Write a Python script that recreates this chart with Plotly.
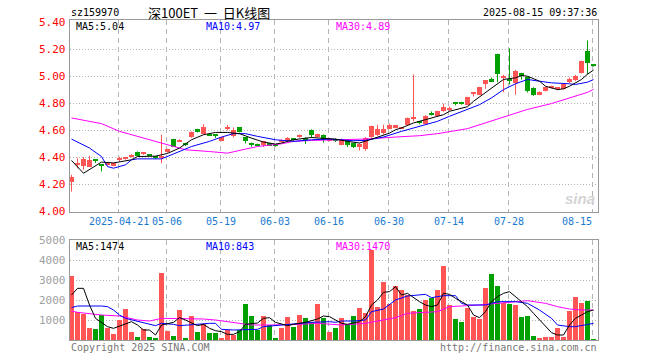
import plotly.graph_objects as go

# ---------------- data ----------------
tick_labels = ['2025-04-21', '05-06', '05-19', '06-03', '06-16', '06-30', '07-14', '07-28', '08-15']
tick_index = [8, 16, 25, 34, 43, 53, 63, 73, 87]

opens = [4.222, 4.350, 4.339, 4.333, 4.383, 4.340, 4.347, 4.340, 4.378, 4.392,
         4.408, 4.442, 4.428, 4.420, 4.407, 4.403, 4.440, 4.536, 4.519, 4.502,
         4.548, 4.610, 4.576, 4.572, 4.564, 4.525, 4.615, 4.556, 4.622, 4.548,
         4.509, 4.500, 4.489, 4.504, 4.492, 4.514, 4.524, 4.538, 4.553, 4.544,
         4.605, 4.550, 4.565, 4.527, 4.536, 4.494, 4.531, 4.507, 4.477, 4.462,
         4.551, 4.568, 4.580, 4.613, 4.618, 4.613, 4.642, 4.685, 4.667, 4.650,
         4.718, 4.709, 4.741, 4.756, 4.807, 4.810, 4.790, 4.874, 4.864, 4.939,
         4.976, 5.161, 4.988, 4.981, 4.951, 5.020, 4.993, 4.914, 4.864, 4.894,
         4.917, 4.912, 4.907, 4.956, 4.970, 5.025, 5.185, 5.080]
highs = [4.272, 4.395, 4.403, 4.413, 4.385, 4.342, 4.360, 4.360, 4.405, 4.402,
         4.425, 4.445, 4.440, 4.422, 4.410, 4.568, 4.465, 4.538, 4.535, 4.504,
         4.592, 4.612, 4.646, 4.575, 4.565, 4.552, 4.640, 4.622, 4.625, 4.550,
         4.510, 4.502, 4.523, 4.506, 4.495, 4.535, 4.550, 4.540, 4.570, 4.548,
         4.607, 4.575, 4.570, 4.540, 4.540, 4.540, 4.535, 4.510, 4.505, 4.550,
         4.635, 4.642, 4.642, 4.650, 4.640, 4.625, 4.695, 5.013, 4.670, 4.712,
         4.740, 4.745, 4.798, 4.775, 4.810, 4.812, 4.848, 4.882, 4.922, 4.972,
         4.990, 5.165, 5.010, 5.205, 5.045, 5.025, 4.998, 4.918, 4.888, 4.922,
         4.930, 4.918, 4.945, 4.990, 5.010, 5.115, 5.264, 5.082]
lows = [4.148, 4.320, 4.309, 4.329, 4.360, 4.297, 4.340, 4.335, 4.370, 4.385,
        4.400, 4.410, 4.420, 4.410, 4.390, 4.358, 4.435, 4.478, 4.515, 4.485,
        4.545, 4.585, 4.570, 4.565, 4.545, 4.520, 4.600, 4.548, 4.585, 4.504,
        4.480, 4.485, 4.478, 4.485, 4.480, 4.510, 4.520, 4.520, 4.545, 4.500,
        4.545, 4.545, 4.510, 4.520, 4.515, 4.490, 4.477, 4.470, 4.452, 4.450,
        4.545, 4.560, 4.570, 4.610, 4.615, 4.610, 4.638, 4.667, 4.645, 4.645,
        4.710, 4.705, 4.738, 4.745, 4.785, 4.790, 4.785, 4.850, 4.860, 4.907,
        4.958, 4.956, 4.882, 4.939, 4.864, 4.975, 4.880, 4.855, 4.860, 4.888,
        4.910, 4.898, 4.902, 4.950, 4.965, 5.020, 5.013, 5.070]
closes = [4.259, 4.358, 4.388, 4.383, 4.375, 4.338, 4.356, 4.357, 4.400, 4.397,
          4.416, 4.413, 4.432, 4.413, 4.400, 4.413, 4.462, 4.481, 4.531, 4.497,
          4.590, 4.590, 4.624, 4.566, 4.560, 4.548, 4.620, 4.605, 4.588, 4.519,
          4.489, 4.490, 4.519, 4.490, 4.487, 4.530, 4.544, 4.535, 4.556, 4.522,
          4.568, 4.570, 4.527, 4.535, 4.520, 4.536, 4.494, 4.477, 4.500, 4.544,
          4.630, 4.610, 4.610, 4.642, 4.637, 4.622, 4.690, 4.692, 4.655, 4.709,
          4.714, 4.741, 4.770, 4.760, 4.796, 4.797, 4.844, 4.880, 4.919, 4.970,
          4.963, 5.013, 5.005, 4.970, 5.037, 5.000, 4.889, 4.864, 4.884, 4.919,
          4.921, 4.916, 4.939, 4.983, 5.005, 5.111, 5.099, 5.078]
volumes = [3217, 1400, 1300, 617, 567, 1233, 617, 317, 1017, 1567,
           417, 167, 567, 167, 83, 3367, 467, 217, 1517, 83,
           1217, 417, 800, 367, 367, 83, 517, 233, 517, 1817,
           1200, 517, 1217, 767, 117, 617, 1133, 667, 1267, 1117,
           900, 1817, 1117, 417, 600, 1100, 800, 1200, 1600, 1367,
           4500, 1650, 2900, 1800, 2700, 2500, 2233, 1450, 1550, 1983,
           2100, 2500, 3700, 1750, 1050, 917, 1600, 1150, 1050, 2600,
           3300, 2700, 1867, 1800, 1750, 1150, 1200, 200, 100, 150,
           150, 600, 150, 1450, 2150, 1850, 1950, 50]

# moving-average lines (bar index, value)
ma5_idx = [0, 2, 5, 7, 10, 11, 14, 16, 18, 20, 22, 24, 26, 28, 30, 32, 34, 35, 37, 40, 41, 43,
           44, 46, 48, 50, 51, 53, 54, 55, 57, 58, 60, 62, 63, 66, 67, 69, 71, 72, 74, 75, 76,
           78, 79, 81, 82, 83, 85, 86, 87]
ma5_val = [4.378, 4.284, 4.366, 4.360, 4.383, 4.407, 4.410, 4.430, 4.470, 4.531, 4.568, 4.585,
           4.585, 4.576, 4.543, 4.514, 4.499, 4.507, 4.531, 4.548, 4.544, 4.539,
           4.536, 4.519, 4.507, 4.535, 4.551, 4.580, 4.605, 4.618, 4.655, 4.667, 4.692, 4.716,
           4.741, 4.775, 4.815, 4.877, 4.939, 4.976, 4.988, 5.005, 5.000,
           4.963, 4.926, 4.901, 4.907, 4.926, 4.976, 5.015, 5.045]
ma10_idx = [0, 3, 5, 6, 7, 9, 10, 11, 15, 16, 18, 20, 23, 25, 27, 29, 31, 34, 37, 40, 43,
            47, 49, 52, 55, 58, 61, 63, 65, 68, 70, 72, 74, 76, 78, 80, 83, 84, 86, 87]
ma10_val = [4.536, 4.470, 4.407, 4.333, 4.321, 4.346, 4.383, 4.390, 4.390, 4.407, 4.444,
            4.481, 4.519, 4.551, 4.576, 4.576, 4.556, 4.531, 4.519, 4.531, 4.536,
            4.524, 4.526, 4.551, 4.593, 4.630, 4.667, 4.704, 4.740, 4.790, 4.840, 4.901,
            4.944, 4.976, 4.963, 4.951, 4.944, 4.939, 4.956, 4.975]
ma30_idx = [0, 5, 8, 11, 15, 17, 19, 23, 26, 29, 31, 35, 37, 40, 43, 49, 54, 58, 61, 63,
            66, 71, 76, 80, 83, 86, 87]
ma30_val = [4.692, 4.650, 4.593, 4.556, 4.507, 4.477, 4.457, 4.444, 4.432, 4.462, 4.481,
            4.501, 4.519, 4.526, 4.531, 4.536, 4.551, 4.561, 4.576, 4.593,
            4.613, 4.684, 4.755, 4.798, 4.840, 4.881, 4.903]

vma5_idx = [0, 1, 2, 3, 4, 6, 7, 9, 10, 11, 12, 13, 14, 15, 16, 17, 18, 19, 21, 22, 23, 24,
            25, 26, 27, 28, 29, 31, 32, 33, 34, 36, 37, 39, 41, 42, 43, 44, 45, 46, 48, 49,
            50, 51, 52, 53, 54, 55, 56, 58, 59, 60, 61, 62, 63, 64, 66, 67, 68, 69, 70, 71,
            72, 73, 74, 76, 77, 78, 79, 80, 81, 82, 83, 84, 86, 87]
vma5_val = [2250, 2583, 2583, 1750, 1083, 667, 583, 783, 917, 750, 500, 500, 250, 750, 833,
            883, 1117, 1000, 717, 783, 583, 467, 417, 283, 283, 417, 783, 850, 1083, 1117,
            883, 717, 783, 883, 1050, 1200, 1167, 1000, 833, 783, 917, 1167, 1750, 2000,
            2383, 2417, 2667, 2250, 2333, 1917, 1750, 1667, 1750, 2333, 2283, 2083, 1750,
            1250, 1117, 1417, 1917, 2167, 2333, 2417, 2167, 1667, 1333, 1000, 667, 367,
            250, 250, 750, 1083, 1417, 1500]
vma10_idx = [0, 1, 5, 6, 7, 8, 9, 11, 12, 14, 15, 17, 18, 21, 23, 24, 25, 27, 28, 31, 32,
             34, 36, 38, 40, 43, 44, 45, 47, 49, 50, 52, 54, 56, 58, 59, 60, 62, 64, 65,
             66, 69, 70, 71, 74, 76, 78, 80, 81, 83, 84, 86, 87]
vma10_val = [1617, 1700, 1700, 1667, 1500, 1250, 1083, 950, 883, 717, 833, 783, 717, 800,
             833, 833, 533, 500, 500, 533, 667, 717, 750, 833, 883, 917, 883, 950, 950,
             1000, 1417, 1550, 2000, 2200, 2250, 2283, 2117, 2217, 2217, 1833, 1750, 1750,
             1833, 1917, 1917, 1833, 1500, 1083, 750, 667, 667, 783, 833]
vma30_idx = [0, 1, 5, 8, 11, 13, 15, 22, 24, 27, 30, 33, 36, 38, 41, 44, 45, 49, 51, 54,
             56, 59, 61, 63, 66, 68, 71, 74, 76, 79, 81, 83, 85, 87]
vma30_val = [1450, 1383, 1250, 1200, 1000, 950, 1083, 1050, 1000, 883, 750, 750, 750, 783,
             833, 783, 750, 833, 950, 1117, 1333, 1383, 1417, 1667, 1700, 1750, 1833, 1917,
             1967, 1833, 1667, 1550, 1500, 1500]

# ---------------- styling ----------------
RED = '#ff5555'
GREEN = '#00a000'
MONO = 'DejaVu Sans Mono'
GRID = '#b4b4b4'
FRAME = '#999999'

n = len(closes)
idx = list(range(n))
is_up = [c >= o for o, c in zip(opens, closes)]
colors = [RED if u else GREEN for u in is_up]
min_body = 0.0075
body_base = [min(o, c) for o, c in zip(opens, closes)]
body_h = [max(abs(c - o), min_body) for o, c in zip(opens, closes)]

fig = go.Figure()

# wicks
for flag, col in ((True, RED), (False, GREEN)):
    wx, wy = [], []
    for i in idx:
        if is_up[i] == flag:
            wx += [i, i, None]
            wy += [lows[i], highs[i], None]
    fig.add_trace(go.Scatter(x=wx, y=wy, mode='lines', line=dict(color=col, width=1),
                             xaxis='x', yaxis='y', hoverinfo='skip'))

# bodies
fig.add_trace(go.Bar(x=idx, y=body_h, base=body_base, width=0.834,
                     marker=dict(color=colors, line=dict(width=0)), xaxis='x', yaxis='y'))

# price MAs
for xs, ys, col in ((ma30_idx, ma30_val, '#ff00ff'), (ma10_idx, ma10_val, '#0000ff'),
                    (ma5_idx, ma5_val, '#000000')):
    fig.add_trace(go.Scatter(x=xs, y=ys, mode='lines', line=dict(color=col, width=1),
                             xaxis='x', yaxis='y'))

# volume bars
fig.add_trace(go.Bar(x=idx, y=volumes, width=0.834,
                     marker=dict(color=colors, line=dict(width=0)), xaxis='x2', yaxis='y2'))
for xs, ys, col in ((vma30_idx, vma30_val, '#ff00ff'), (vma10_idx, vma10_val, '#0000ff'),
                    (vma5_idx, vma5_val, '#000000')):
    fig.add_trace(go.Scatter(x=xs, y=ys, mode='lines', line=dict(color=col, width=1),
                             xaxis='x2', yaxis='y2'))

W, H = 660, 360
ML, MR, MT, MB = 70, 62, 20, 20
PW, PH = W - ML - MR, H - MT - MB


def px(xp):
    return (xp - ML) / PW


def py(yp):
    return (H - MB - yp) / PH


grid_x = [t - 1 / 6 for t in tick_index]
xr = [-0.25, -0.25 + PW / 6]
common_x = dict(range=xr, tickvals=grid_x, showticklabels=False, showgrid=True,
                gridcolor=GRID, griddash='5px,4px', gridwidth=1, zeroline=False,
                showline=True, mirror=True, linecolor=FRAME, linewidth=1, ticks='',
                fixedrange=True)

price_range = [3.9978, 3.9978 + 192 / 135.5]

annotations = []


def txt(x, y, s, color, anchor='left', size=10, family=MONO, xref='paper', yref='paper',
        yanchor='middle'):
    annotations.append(dict(x=x, y=y, xref=xref, yref=yref, text=s, showarrow=False,
                            xanchor=anchor, yanchor=yanchor, borderpad=0,
                            font=dict(family=family, size=size, color=color)))


# price axis labels
for v in [4.0, 4.2, 4.4, 4.6, 4.8, 5.0, 5.2, 5.4]:
    txt(px(67), v, f'{v:.2f}', '#ff0000', anchor='right', yref='y', size=11)
# volume axis labels
for v in [1000, 2000, 3000, 4000, 5000]:
    txt(px(67), v, str(v), '#a0a0a0', anchor='right', yref='y2', size=11)
# date labels
for lab, gx in zip(tick_labels, grid_x):
    anchor = 'right' if lab == tick_labels[-1] else 'center'
    txt(gx + (0.1 if anchor == 'right' else 0), py(221), lab, '#1a7ad0', anchor=anchor,
        xref='x', size=10)

# header
txt(px(70), py(12), 'sz159970', '#000000', size=10)
txt(px(209), py(12), '深100ET&nbsp;&nbsp;一&nbsp;&nbsp;日K线图', '#000000', anchor='center',
    size=13, family='Noto Sans CJK SC')
txt(px(598), py(12), '2025-08-15 09:37:36', '#000000', anchor='right', size=10)

# MA legends
txt(px(75), py(26), 'MA5:5.04', '#000000')
txt(px(205), py(26), 'MA10:4.97', '#0000ff')
txt(px(335), py(26), 'MA30:4.89', '#ff00ff')
txt(px(75), py(246), 'MA5:1474', '#000000')
txt(px(205), py(246), 'MA10:843', '#0000ff')
txt(px(335), py(246), 'MA30:1470', '#ff00ff')

# footer
txt(px(70), py(347), 'Copyright 2025 SINA.COM', '#777777')
txt(px(598), py(347), 'http://finance.sina.com.cn', '#777777', anchor='right')

# sina watermark
txt(px(580), py(198), '<i><b>sina</b></i>', '#d4d4d4', anchor='center', size=15,
    family='Liberation Sans')

fig.update_layout(
    width=W, height=H,
    margin=dict(l=ML, r=MR, t=MT, b=MB, pad=0),
    paper_bgcolor='white', plot_bgcolor='white',
    showlegend=False, barmode='overlay', bargap=0,
    xaxis=dict(domain=[0, 1], anchor='y', **common_x),
    xaxis2=dict(domain=[0, 1], anchor='y2', **common_x),
    yaxis=dict(domain=[py(212), 1], range=price_range, tickvals=[4.2, 4.4, 4.6, 4.8, 5.0, 5.2],
               showticklabels=False, showgrid=True, gridcolor=GRID, griddash='1px,2px',
               zeroline=False, showline=True, mirror=True, linecolor=FRAME, ticks='',
               fixedrange=True),
    yaxis2=dict(domain=[0, py(240)], range=[0, 5000], tickvals=[1000, 2000, 3000, 4000],
                showticklabels=False, showgrid=True, gridcolor=GRID, griddash='1px,2px',
                zeroline=False, showline=True, mirror=True, linecolor=FRAME, ticks='',
                fixedrange=True),
    annotations=annotations,
    hovermode=False,
)

fig.write_html('out.html', config={'displayModeBar': False},
               post_script="document.body.style.margin='0';document.body.style.padding='0';")
